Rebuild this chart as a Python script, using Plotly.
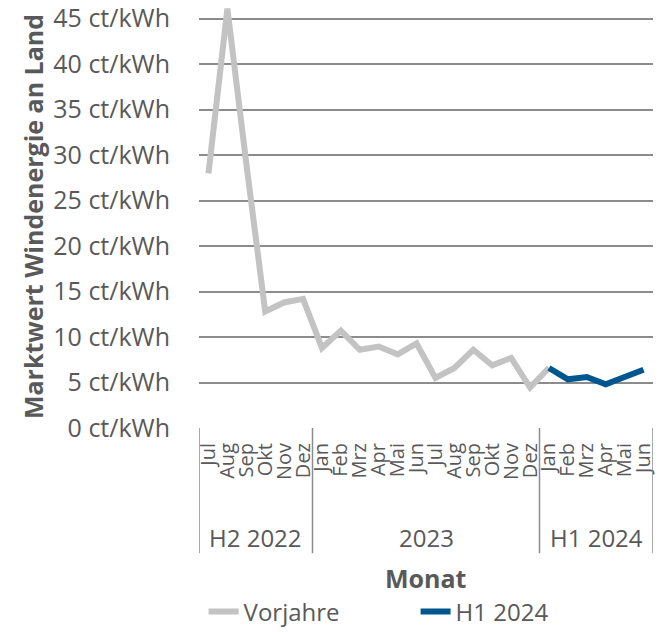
import plotly.graph_objects as go

# --- daten
monate = ["Jul", "Aug", "Sep", "Okt", "Nov", "Dez",
          "Jan", "Feb", "Mrz", "Apr", "Mai", "Jun",
          "Jul", "Aug", "Sep", "Okt", "Nov", "Dez",
          "Jan", "Feb", "Mrz", "Apr", "Mai", "Jun"]
gruppen = ["H2 2022", "2023", "H1 2024"]
gruppen_laenge = [6, 12, 6]

# Vorjahre: Jul 2022 .. Jan 2024
vorjahre = [28.0, 46.1, 29.1, 12.8, 13.8, 14.2,
            8.8, 10.7, 8.6, 8.95, 8.1, 9.3,
            5.5, 6.6, 8.6, 6.9, 7.7, 4.45,
            6.6]
# H1 2024: Jan .. Jun
h1_2024 = [6.6, 5.35, 5.6, 4.8, 5.6, 6.4]

y_ticks = [0, 5, 10, 15, 20, 25, 30, 35, 40, 45]
y_labels = [f"{v} ct/kWh" for v in y_ticks]

grau = "#c3c3c3"
blau = "#00578f"
linie = "#8c8c8c"
text = "#595959"
schrift = "Open Sans"

idx = list(range(len(monate)))

fig = go.Figure()
fig.add_trace(
    go.Scatter(x=idx[:len(vorjahre)], y=vorjahre, name="Vorjahre",
               mode="lines", line=dict(color=grau, width=6), cliponaxis=False)
)
fig.add_trace(
    go.Scatter(x=idx[18:], y=h1_2024, name="H1 2024",
               mode="lines", line=dict(color=blau, width=6), cliponaxis=False)
)

# gruppen-beschriftung und trennlinien unter der x-achse
grenzen = [-0.5]
for n in gruppen_laenge:
    grenzen.append(grenzen[-1] + n)
for g in grenzen:
    fig.add_shape(type="line", xref="x", yref="paper", x0=g, x1=g, y0=0, y1=-0.296,
                  line=dict(color=linie, width=1.5))
for i, name in enumerate(gruppen):
    fig.add_annotation(x=(grenzen[i] + grenzen[i + 1]) / 2, y=-0.258, xref="x", yref="paper",
                       text=name, showarrow=False, yanchor="middle",
                       font=dict(size=24, color=text))
fig.add_annotation(x=0.5, y=-0.355, xref="paper", yref="paper", text="<b>Monat</b>",
                   showarrow=False, yanchor="middle", font=dict(size=25, color=text))

fig.update_layout(
    width=661, height=632,
    margin=dict(l=199, r=8, t=5, b=204, autoexpand=False),
    plot_bgcolor="white", paper_bgcolor="white",
    font=dict(family=schrift, color=text, size=20),
    showlegend=True,
    legend=dict(orientation="h", x=0.308, xanchor="left", xref="container",
                y=0.032, yanchor="middle", yref="container",
                font=dict(size=24, color=text),
                entrywidth=167, entrywidthmode="pixels"),
)
fig.update_xaxes(
    range=[-0.5, 23.5], automargin=False,
    tickvals=idx, ticktext=monate, tickangle=-90,
    tickfont=dict(size=20, color=text), ticklabelstandoff=10,
    showline=False, showgrid=False, zeroline=False, ticks="",
)
fig.update_yaxes(
    range=[0, 46.5], automargin=False,
    tickvals=y_ticks, ticktext=y_labels,
    tickfont=dict(size=25, color=text), ticklabelstandoff=28,
    showgrid=True, gridcolor=linie, gridwidth=1.5,
    zeroline=False, ticks="",
    title=dict(text="<b>Marktwert Windenergie an Land</b>",
               font=dict(size=25, color=text), standoff=2),
)

# seite ohne standard-rand des browsers
fig.write_html("out.html", config={"displayModeBar": False},
               post_script="document.body.style.margin='0';")
